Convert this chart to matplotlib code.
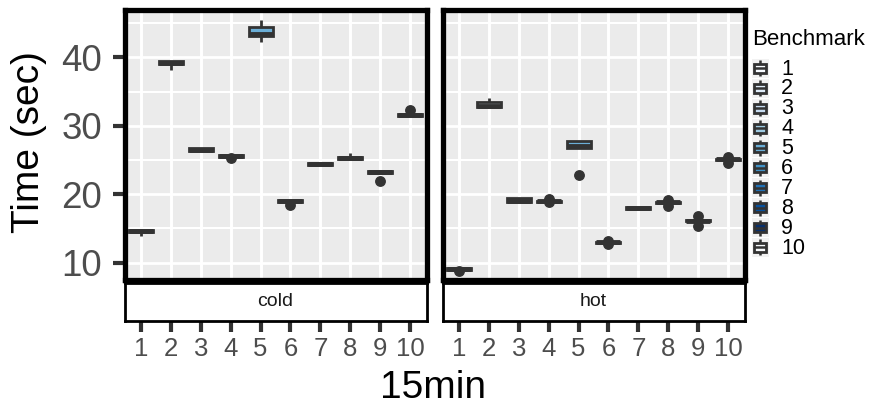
import matplotlib
matplotlib.use('Agg')
import matplotlib.pyplot as plt
from matplotlib.patches import Rectangle
from matplotlib.lines import Line2D

plt.rcParams['font.family'] = ['Liberation Sans', 'DejaVu Sans']

W, H = 871, 407

benchmarks = ['1', '2', '3', '4', '5', '6', '7', '8', '9', '10']
panels = ['cold', 'hot']
x_label = '15min'
y_label = 'Time (sec)'
legend_title = 'Benchmark'
y_ticks = [10, 20, 30, 40]

# cold
cold_lo = [13.95, 38.20, 26.38, 25.45, 42.20, 18.82, 24.32, 25.15, 23.15, 31.48]
cold_q1 = [14.50, 39.00, 26.38, 25.45, 43.05, 18.82, 24.32, 25.15, 23.15, 31.48]
cold_med = [14.65, 39.20, 26.50, 25.60, 43.45, 18.95, 24.45, 25.30, 23.30, 31.62]
cold_q3 = [14.80, 39.40, 26.70, 25.75, 44.40, 19.10, 24.62, 25.45, 23.45, 31.78]
cold_hi = [14.80, 39.40, 26.70, 25.75, 45.50, 19.10, 24.62, 26.00, 23.45, 31.78]
cold_fliers = [[], [], [], [25.25], [], [18.40], [], [], [22.00], [32.35]]

# hot
hot_lo = [8.95, 32.60, 18.90, 18.90, 26.80, 12.88, 17.78, 18.72, 16.08, 25.02]
hot_q1 = [8.95, 32.75, 18.90, 18.90, 26.80, 12.88, 17.78, 18.72, 16.08, 25.02]
hot_med = [9.05, 32.85, 18.95, 18.97, 27.10, 12.97, 17.93, 18.80, 16.16, 25.10]
hot_q3 = [9.20, 33.50, 19.45, 19.05, 27.70, 13.05, 18.08, 18.88, 16.25, 25.18]
hot_hi = [9.20, 34.00, 19.45, 19.05, 27.70, 13.05, 18.08, 18.88, 16.25, 25.18]
hot_fliers = [[8.80], [], [], [19.35, 18.85], [22.75], [13.22, 12.72], [],
              [19.12, 18.35], [16.75, 15.40], [25.44, 24.62]]

fill_colors = ['#F7FBFF', '#DEEBF7', '#C6DBEF', '#9ECAE1', '#6BAED6',
               '#4292C6', '#2171B5', '#08519C', '#08306B', '#F7F9FB']

data = {
    'cold': (cold_lo, cold_q1, cold_med, cold_q3, cold_hi, cold_fliers),
    'hot': (hot_lo, hot_q1, hot_med, hot_q3, hot_hi, hot_fliers),
}

DARK = '#333333'


def fx(x):
    return x / W


def fy(y):
    return 1 - y / H


fig = plt.figure(figsize=(W / 100, H / 100), dpi=100)
fig.patch.set_facecolor('white')

panel_left = {'cold': 124.5, 'hot': 442.5}
panel_w = 302
panel_top, panel_bot = 10.3, 280.0
strip_top, strip_bot = 282.5, 321.0
xlim = (0.45, 10.55)
ylim = (7.47, 46.86)

positions = list(range(1, len(benchmarks) + 1))

for pi, p in enumerate(panels):
    lx = panel_left[p]
    ax = fig.add_axes([fx(lx), fy(panel_bot), panel_w / W, (panel_bot - panel_top) / H])
    ax.set_facecolor('#EBEBEB')
    ax.set_xlim(*xlim)
    ax.set_ylim(*ylim)
    ax.set_xticks(positions)
    ax.set_yticks(y_ticks)
    ax.set_yticks([15, 25, 35, 45], minor=True)
    ax.set_axisbelow(True)
    ax.grid(which='major', color='white', linewidth=2.0)
    ax.grid(which='minor', axis='y', color='white', linewidth=1.5)
    ax.tick_params(axis='x', which='both', length=0, labelbottom=False)
    ax.tick_params(axis='y', which='minor', length=0)
    if pi == 0:
        ax.tick_params(axis='y', which='major', direction='out', length=9.0, width=3,
                       color=DARK, labelsize=26.5, labelcolor='#4D4D4D', pad=7.3)
    else:
        ax.tick_params(axis='y', which='major', length=0, labelleft=False)
    for s in ax.spines.values():
        s.set_color('black')
        s.set_linewidth(3.8)
        s.set_zorder(5)

    lo, q1, med, q3, hi, fl = data[p]
    stats = []
    for i in range(len(benchmarks)):
        stats.append(dict(whislo=lo[i], q1=q1[i], med=med[i], q3=q3[i],
                          whishi=hi[i], fliers=fl[i], label=benchmarks[i]))
    bp = ax.bxp(stats, positions=positions, widths=0.8, patch_artist=True,
                showcaps=False,
                boxprops=dict(edgecolor=DARK, linewidth=2.0),
                medianprops=dict(color=DARK, linewidth=3.5, solid_capstyle='butt'),
                whiskerprops=dict(color=DARK, linewidth=2.0, solid_capstyle='butt'),
                flierprops=dict(marker='o', markerfacecolor=DARK, markeredgecolor=DARK,
                                markersize=6.8, linestyle='none'))
    for patch, c in zip(bp['boxes'], fill_colors):
        patch.set_facecolor(c)

    # strip (below the panel)
    sax = fig.add_axes([fx(lx), fy(strip_bot), panel_w / W, (strip_bot - strip_top) / H])
    sax.set_facecolor('white')
    sax.set_xlim(*xlim)
    sax.set_ylim(0, 1)
    sax.set_yticks([])
    sax.set_xticks(positions)
    sax.set_xticklabels(benchmarks)
    sax.tick_params(axis='x', direction='out', length=8.2, width=3, color=DARK,
                    labelsize=18.5, labelcolor='#4D4D4D', pad=3.4)
    for s in sax.spines.values():
        s.set_color('black')
        s.set_linewidth(2.0)
    sax.text(0.5, 0.5, p, transform=sax.transAxes, ha='center', va='center',
             fontsize=14, color='#1A1A1A')

# axis titles
fig.text(fx(432.5), fy(398.3), x_label, ha='center', va='baseline', fontsize=28, color='black')
fig.text(fx(29), fy(142.5), y_label, ha='center', va='center', rotation=90,
         fontsize=28, color='black')

# legend
fig.text(fx(752), fy(45), legend_title, ha='left', va='baseline', fontsize=16, color='black')
key_cx = 760
for i, (lab, c) in enumerate(zip(benchmarks, fill_colors)):
    cy = 68.3 + i * 19.9
    bg = Rectangle((fx(key_cx - 8.5), fy(cy + 9.5)), 17 / W, 19 / H, transform=fig.transFigure,
                   facecolor='#F2F2F2', edgecolor='none', zorder=10)
    fig.add_artist(bg)
    fig.add_artist(Line2D([fx(key_cx), fx(key_cx)], [fy(cy - 8.0), fy(cy + 8.0)],
                          transform=fig.transFigure, color=DARK, linewidth=1.8,
                          solid_capstyle='butt', zorder=11))
    fig.add_artist(Rectangle((fx(key_cx - 6), fy(cy + 4.5)), 12 / W, 9 / H,
                             transform=fig.transFigure, facecolor=c, edgecolor=DARK,
                             linewidth=2.0, zorder=12))
    fig.add_artist(Line2D([fx(key_cx - 6), fx(key_cx + 6)], [fy(cy), fy(cy)],
                          transform=fig.transFigure, color=DARK, linewidth=1.8,
                          solid_capstyle='butt', zorder=13))
    fig.text(fx(781), fy(cy + 0.8), lab, ha='left', va='center', fontsize=15.5, color='black')

fig.savefig('out.png', dpi=100, facecolor='white')
